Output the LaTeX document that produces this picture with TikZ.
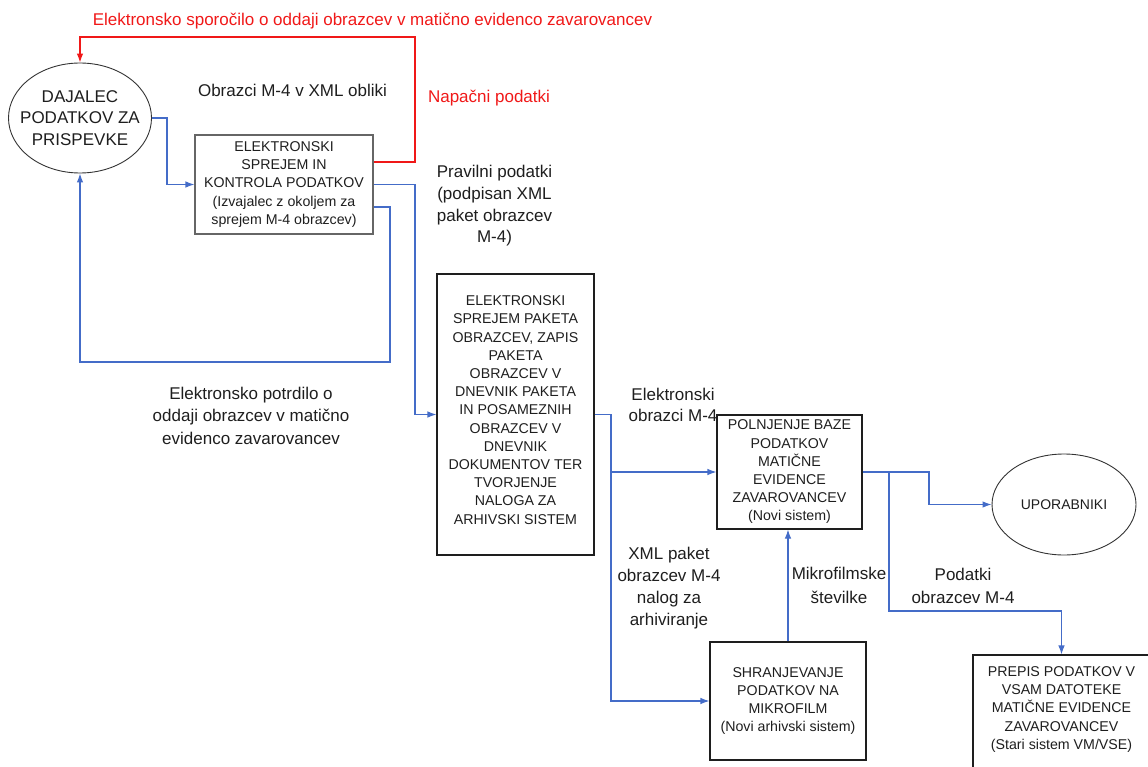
\documentclass[tikz,border=0pt]{standalone}
\usepackage{fontspec}
\setmainfont{Liberation Sans}
\usetikzlibrary{arrows.meta,shapes.geometric}
\definecolor{flowblue}{RGB}{68,108,200}
\definecolor{errred}{RGB}{240,24,24}
\definecolor{ink}{RGB}{30,30,30}
\begin{document}
\begin{tikzpicture}[x=1pt,y=-1pt,
  stepbox/.style={draw=ink, line width=1.1pt, rectangle, inner sep=0pt},
  boxtext/.style={align=center, text=ink, inner sep=0pt,
    font=\fontsize{14.2}{18.2}\selectfont},
  actor/.style={draw=black!80, line width=0.9pt, ellipse, inner sep=0pt},
  actortext/.style={align=center, text=ink, inner sep=0pt},
  lbl/.style={align=center, text=ink, inner sep=0pt,
    font=\fontsize{17}{22}\selectfont},
  errlbl/.style={lbl, text=errred},
  flow/.style={draw=flowblue, line width=1.1pt, -{Latex[length=9pt,width=6.5pt]}},
  errflow/.style={draw=errred, line width=1.1pt, -{Latex[length=9pt,width=6.5pt]}}
]
\useasboundingbox (0,0) rectangle (1148,767);

% actors
\node[actor, minimum width=143pt, minimum height=110pt] (e1) at (80,118) {};
\node[actortext, font=\fontsize{17}{21.5}\selectfont] (e1t) at (80,118)
  {DAJALEC\\PODATKOV ZA\\PRISPEVKE};
\node[actor, minimum width=144pt, minimum height=101pt] (e2) at (1064,504.5) {};
\node[actortext, font=\fontsize{14}{18}\selectfont] (e2t) at (1064,504.5) {UPORABNIKI};

% process boxes
\node[stepbox, draw=black!60, minimum width=178pt, minimum height=99pt] (b1) at (284,184.5) {};
\node[boxtext] (b1t) at (284,184.5)
  {ELEKTRONSKI\\SPREJEM IN\\KONTROLA PODATKOV\\(Izvajalec z okoljem za\\sprejem M-4 obrazcev)};

\node[stepbox, minimum width=157pt, minimum height=281pt] (b2) at (515.5,414.5) {};
\node[boxtext] (b2t) at (515.5,410)
  {ELEKTRONSKI\\SPREJEM PAKETA\\OBRAZCEV, ZAPIS\\PAKETA\\OBRAZCEV V\\DNEVNIK PAKETA\\IN POSAMEZNIH\\OBRAZCEV V\\DNEVNIK\\DOKUMENTOV TER\\TVORJENJE\\NALOGA ZA\\ARHIVSKI SISTEM};

\node[stepbox, minimum width=145pt, minimum height=114pt] (b3) at (789.5,472) {};
\node[boxtext] (b3t) at (789.5,472)
  {POLNJENJE BAZE\\PODATKOV\\MATIČNE\\EVIDENCE\\ZAVAROVANCEV\\(Novi sistem)};

\node[stepbox, minimum width=156pt, minimum height=118pt] (b4) at (788,701) {};
\node[boxtext] (b4t) at (788,701)
  {SHRANJEVANJE\\PODATKOV NA\\MIKROFILM\\(Novi arhivski sistem)};

\node[stepbox, minimum width=177pt, minimum height=116pt] (b5) at (1061.5,713) {};
\node[boxtext] (b5t) at (1061.5,709.5)
  {PREPIS PODATKOV V\\VSAM DATOTEKE\\MATIČNE EVIDENCE\\ZAVAROVANCEV\\(Stari sistem VM/VSE)};

% labels
\node[errlbl] (tmsg) at (372.5,21)
  {Elektronsko sporočilo o oddaji obrazcev v matično evidenco zavarovancev};
\node[lbl] (txml) at (292.5,90) {Obrazci M-4 v XML obliki};
\node[errlbl] (tbad) at (489,98) {Napačni podatki};
\node[lbl, font=\fontsize{17}{21.7}\selectfont] (tok) at (494.5,206)
  {Pravilni podatki\\(podpisan XML\\paket obrazcev\\M-4)};
\node[lbl, font=\fontsize{17}{22.5}\selectfont] (tack) at (251,415.5)
  {Elektronsko potrdilo o\\oddaji obrazcev v matično\\evidenco zavarovancev};
\node[lbl, font=\fontsize{17}{21}\selectfont] (tforms) at (673,404.5)
  {Elektronski\\obrazci M-4};
\node[lbl] (tpkg) at (669,588)
  {XML paket\\obrazcev M-4\\nalog za\\arhiviranje};
\node[lbl, font=\fontsize{17}{24}\selectfont] (tmf) at (839,585)
  {Mikrofilmske\\številke};
\node[lbl, font=\fontsize{17}{23}\selectfont] (tdata) at (963,586)
  {Podatki\\obrazcev M-4};

% rejected data goes back to the sender
\draw[errflow] ([yshift=22.5pt]b1.east) -- (415,162) -- (415,37) -| (e1.north);

% submission and confirmation
\draw[flow] (e1.east) -- (167,118) |- (b1.west);
\draw[flow] ([yshift=-22.5pt]b1.east) -- (390,207) -- (390,362) -| (e1.south);
\draw[flow] (b1.east) -- (415,184.5) |- (b2.west);

% package processing
\draw[flow] (b2.east) -- (611,414.5) |- (b3.west);
\draw[flow] (611,472) |- (b4.west);
\draw[flow] (b4.north) -- (b4.north |- b3.south);

% database outputs
\draw[flow] (b3.east) -- (929,472) |- (e2.west);
\draw[flow] (889,472) |- (1061.5,611) -- (b5.north);

\end{tikzpicture}
\end{document}
